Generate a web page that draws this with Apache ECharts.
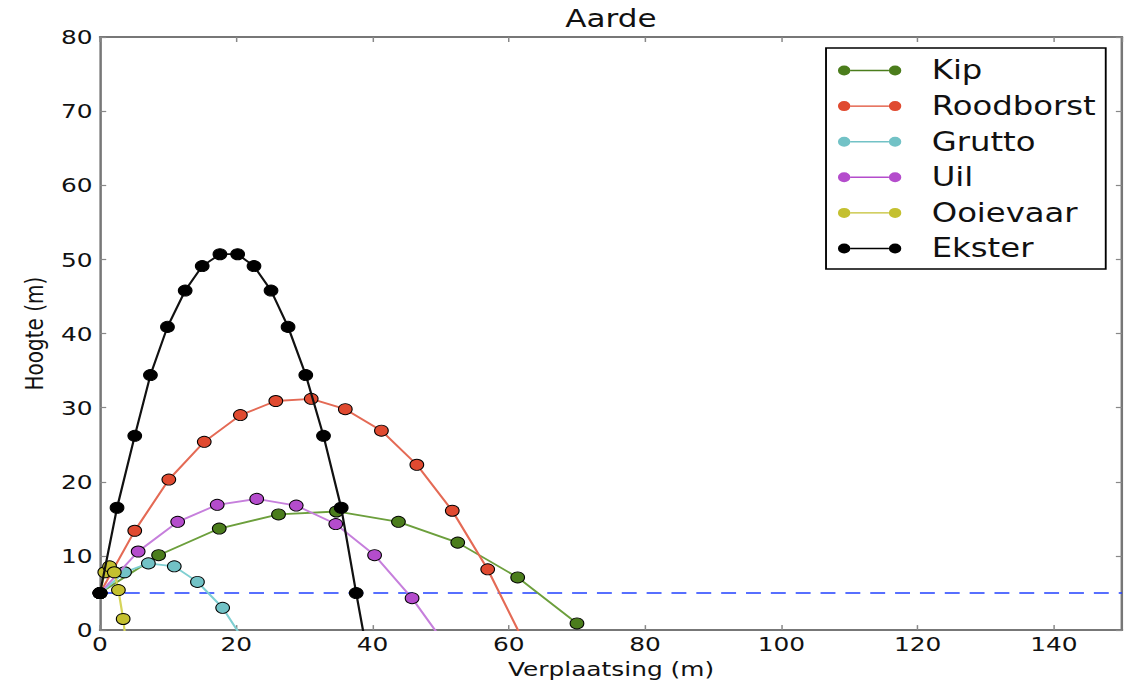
<!DOCTYPE html>
<html><head><meta charset="utf-8">
<script src="https://cdn.jsdelivr.net/npm/echarts@6/dist/echarts.min.js"></script>
<style>
html,body{margin:0;padding:0;background:#fff;overflow:hidden}
#wrap{width:1133px;height:684px;overflow:hidden}
#chart{width:912px;height:684px;transform:scaleX(1.24232);transform-origin:0 0}
</style></head><body><div id="wrap"><div id="chart"></div></div>
<script>
// ---- data ----
const seriesNames = ['Kip', 'Roodborst', 'Grutto', 'Uil', 'Ooievaar', 'Ekster'];
const kipX = [0, 8.6, 17.5, 26.2, 34.7, 43.8, 52.5, 61.3, 70.0];
const kipY = [5, 10.1, 13.7, 15.6, 16.0, 14.6, 11.8, 7.1, 0.9];
const roodborstX = [0, 5.1, 10.1, 15.3, 20.6, 25.8, 31.0, 36.0, 41.3, 46.5, 51.7, 56.9, 62.1];
const roodborstY = [5, 13.4, 20.3, 25.4, 29.0, 30.9, 31.2, 29.8, 26.9, 22.3, 16.1, 8.2, -1.4];
const gruttoX = [0, 3.6, 7.1, 10.9, 14.3, 18.0, 21.6];
const gruttoY = [5, 7.8, 9.0, 8.6, 6.5, 3.0, -2.1];
const uilX = [0, 5.6, 11.4, 17.2, 23.0, 28.8, 34.6, 40.3, 45.8, 51.6];
const uilY = [5, 10.6, 14.6, 16.9, 17.7, 16.8, 14.3, 10.1, 4.3, -3.1];
const ooievaarX = [0, 0.7, 1.4, 2.1, 2.7, 3.4, 4.1];
const ooievaarY = [5, 7.8, 8.6, 7.8, 5.4, 1.5, -4.0];
const eksterX = [0, 2.5, 5.1, 7.4, 9.9, 12.5, 15.0, 17.6, 20.2, 22.6, 25.1, 27.6, 30.2, 32.8, 35.4, 37.6, 40.2];
const eksterY = [5, 16.5, 26.2, 34.4, 40.9, 45.8, 49.1, 50.7, 50.7, 49.1, 45.8, 40.9, 34.4, 26.2, 16.5, 5.0, -8.1];
const refLineX = [0, 150];
const refLineY = [5, 5];
const xTicks = [0, 20, 40, 60, 80, 100, 120, 140];
const yTicks = [0, 10, 20, 30, 40, 50, 60, 70, 80];

// ---- styles ----
const markerColors = ['#4b7d1c', '#e04a30', '#72c2c6', '#b44ccc', '#c4c030', '#000000'];
const lineColors = ['#6c9f3c', '#e46a55', '#7fcfd2', '#c67fdc', '#d6d45a', '#111111'];
const xs = [kipX, roodborstX, gruttoX, uilX, ooievaarX, eksterX];
const ys = [kipY, roodborstY, gruttoY, uilY, ooievaarY, eksterY];
const zip = (a, b) => a.map((v, i) => [v, b[i]]);

const FONT = 'DejaVu Sans';
const legendIcon = 'path://M0,5 A5,5 0 1,0 10,5 A5,5 0 1,0 0,5 Z M41,5 A5,5 0 1,0 51,5 A5,5 0 1,0 41,5 Z M10,4.3 L41,4.3 L41,5.7 L10,5.7 Z';

const series = [{
  name: 'ref', type: 'line', data: zip(refLineX, refLineY), symbol: 'none', silent: true,
  lineStyle: { color: '#2040ff', width: 1.4, type: [12, 8] }, z: 1
}];
seriesNames.forEach((n, i) => {
  series.push({
    name: n, type: 'line', data: zip(xs[i], ys[i]), clip: true,
    symbol: 'circle', symbolSize: 11, showAllSymbol: true,
    lineStyle: { color: lineColors[i], width: 1.8 },
    itemStyle: { color: markerColors[i], borderColor: '#000', borderWidth: 0.9 },
    emphasis: { disabled: true }, z: 2 + i
  });
});

const axisLineStyle = { show: true, onZero: false, lineStyle: { color: '#777', width: 2 } };
const tickStyle = { show: true, inside: true, length: 5, lineStyle: { color: '#888', width: 1.2 } };

const chart = echarts.init(document.getElementById('chart'), null, { renderer: 'svg' });
chart.setOption({
  animation: false,
  backgroundColor: '#fff',
  title: {
    text: 'Aarde', left: 491.8, top: 6, textAlign: 'center', padding: 0,
    textStyle: { fontFamily: FONT, fontSize: 25, fontWeight: 'normal', color: '#111' }
  },
  grid: { left: 80.5, right: 8.8, top: 37, bottom: 52, containLabel: false },
  legend: {
    data: seriesNames, orient: 'vertical', left: 664.9, top: 48,
    padding: [9.5, 8, 7.5, 9.6], itemGap: 9.6, itemWidth: 51, itemHeight: 10,
    icon: legendIcon, selectedMode: false,
    backgroundColor: '#fff', borderColor: '#000', borderWidth: 1.5,
    itemStyle: { borderWidth: 0 },
    textStyle: { fontFamily: FONT, fontSize: 26, color: '#111', padding: [0, 0, 0, 19.5] }
  },
  xAxis: [{
    type: 'value', min: 0, max: 150, interval: 20, position: 'bottom',
    name: 'Verplaatsing (m)', nameLocation: 'middle', nameGap: 22,
    nameTextStyle: { fontFamily: FONT, fontSize: 20, color: '#111' },
    axisLine: axisLineStyle, axisTick: tickStyle, splitLine: { show: false },
    axisLabel: { fontFamily: FONT, fontSize: 20, color: '#111', margin: 4, showMaxLabel: false,
      formatter: v => xTicks.includes(v) ? String(v) : '' }
  }, {
    type: 'value', min: 0, max: 150, interval: 20, position: 'top',
    axisLine: axisLineStyle, axisTick: tickStyle, splitLine: { show: false }, axisLabel: { show: false }
  }],
  yAxis: [{
    type: 'value', min: 0, max: 80, interval: 10, position: 'left',
    name: 'Hoogte (m)', nameLocation: 'middle', nameGap: 43, nameRotate: 90,
    nameTextStyle: { fontFamily: FONT, fontSize: 20, color: '#111' },
    axisLine: axisLineStyle, axisTick: tickStyle, splitLine: { show: false },
    axisLabel: { fontFamily: FONT, fontSize: 20, color: '#111', margin: 6,
      formatter: v => yTicks.includes(v) ? String(v) : '' }
  }, {
    type: 'value', min: 0, max: 80, interval: 10, position: 'right',
    axisLine: axisLineStyle, axisTick: tickStyle, splitLine: { show: false }, axisLabel: { show: false }
  }],
  series: series
});
</script></body></html>
